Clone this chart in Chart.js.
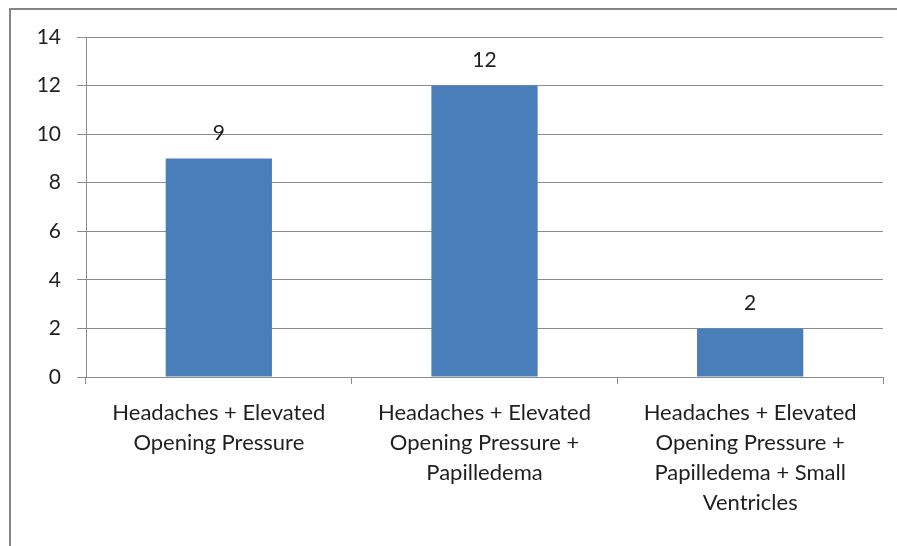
<!DOCTYPE html>
<html>
<head>
<meta charset="utf-8">
<script src="https://cdn.jsdelivr.net/npm/chart.js@4/dist/chart.umd.min.js"></script>
<style>
html,body{margin:0;padding:0;background:#fff;}
#wrap{position:relative;width:897px;height:546px;}
</style>
</head>
<body>
<div id="wrap"><canvas id="c" width="897" height="546"></canvas></div>
<script>
const categories = [
  ["Headaches + Elevated", "Opening Pressure"],
  ["Headaches + Elevated", "Opening Pressure +", "Papilledema"],
  ["Headaches + Elevated", "Opening Pressure +", "Papilledema + Small", "Ventricles"]
];
const counts = [9, 12, 2];
const yTicks = [0, 2, 4, 6, 8, 10, 12, 14];

const FONT = "Lato, 'Open Sans', sans-serif";
const TEXT = '#1f1f1f';
const GRID = '#8c8c8c';

const framePlugin = {
  id: 'frame',
  beforeDraw(chart) {
    const ctx = chart.ctx;
    ctx.save();
    ctx.fillStyle = '#fff';
    ctx.fillRect(0, 0, chart.width, chart.height);
    ctx.strokeStyle = '#858585';
    ctx.lineWidth = 2;
    ctx.beginPath();
    ctx.moveTo(10, chart.height);
    ctx.lineTo(10, 9);
    ctx.lineTo(chart.width, 9);
    ctx.stroke();
    ctx.restore();
  }
};

const labelPlugin = {
  id: 'vlabels',
  afterDatasetsDraw(chart) {
    const ctx = chart.ctx;
    const meta = chart.getDatasetMeta(0);
    ctx.save();
    ctx.font = "21px " + FONT;
    ctx.fillStyle = TEXT;
    ctx.textAlign = 'center';
    ctx.textBaseline = 'middle';
    meta.data.forEach((bar, i) => {
      ctx.fillText(String(counts[i]), bar.x, bar.y - 25);
    });
    ctx.restore();
  }
};

new Chart(document.getElementById('c'), {
  type: 'bar',
  data: {
    labels: categories,
    datasets: [{
      data: counts,
      backgroundColor: '#4a7ebb',
      borderWidth: 0,
      categoryPercentage: 0.4,
      barPercentage: 1.0
    }]
  },
  options: {
    responsive: false,
    animation: false,
    devicePixelRatio: 1,
    layout: { padding: { top: 37, right: 14, left: 0, bottom: 0 } },
    plugins: { legend: { display: false }, tooltip: { enabled: false } },
    scales: {
      x: {
        offset: true,
        grid: { offset: true, drawOnChartArea: false, drawTicks: true, tickLength: 7, color: GRID },
        border: { display: true, color: GRID },
        ticks: { color: TEXT, font: { family: FONT, size: 22, lineHeight: 1.36 }, padding: 14, maxRotation: 0, autoSkip: false },
        afterFit(scale) { scale.height = 169; }
      },
      y: {
        min: 0, max: 14,
        afterBuildTicks(scale) { scale.ticks = yTicks.map(v => ({ value: v })); },
        grid: { color: GRID, tickLength: 9, drawTicks: true },
        border: { display: true, color: GRID },
        ticks: { color: TEXT, font: { family: FONT, size: 21 }, padding: 16 },
        afterFit(scale) { scale.width = 86; }
      }
    }
  },
  plugins: [framePlugin, labelPlugin]
});
</script>
</body>
</html>
